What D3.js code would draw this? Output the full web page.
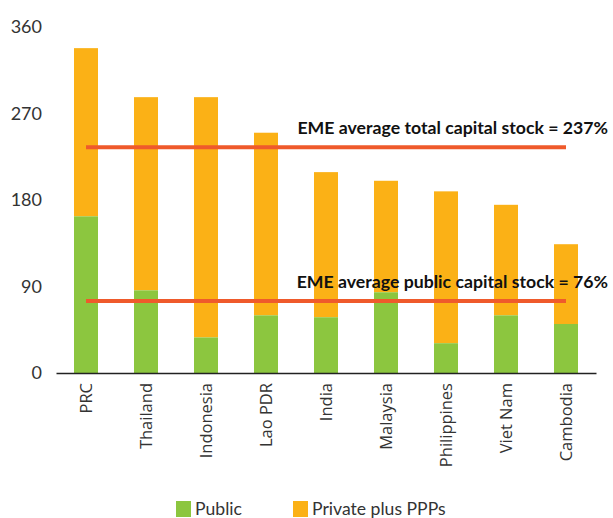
<!DOCTYPE html>
<html>
<head>
<meta charset="utf-8">
<script src="https://cdn.jsdelivr.net/npm/d3@7"></script>
<style>
  body { margin: 0; background: #fff; }
  svg { display: block; }
</style>
</head>
<body>
<script>
var countries = ["PRC", "Thailand", "Indonesia", "Lao PDR", "India", "Malaysia", "Philippines", "Viet Nam", "Cambodia"];
var totalStock = [338, 287, 287, 250, 209, 200, 189, 175, 134];
var publicStock = [163, 86, 37, 60, 58, 84, 31, 60, 51];
var yTicks = [0, 90, 180, 270, 360];
var avgLines = [
  {value: 235, label: "EME average total capital stock = 237%"},
  {value: 75, label: "EME average public capital stock = 76%"}
];
var legendNames = ["Public", "Private plus PPPs"];

var screen = {width: 613, height: 518};
var green = "#8cc63f", orange = "#fbb116", red = "#ef5a2b";

var svg = d3.select("body")
            .append("svg")
            .attr("width", screen.width)
            .attr("height", screen.height);

var x = d3.scaleBand()
          .domain(countries)
          .range([56, 596])
          .paddingInner(0.6)
          .paddingOuter(0.3);

var y = d3.scaleLinear()
          .domain([0, 360])
          .range([373, 27]);

// y tick labels only, no axis line
svg.append("g")
   .selectAll("text")
   .data(yTicks)
   .enter()
   .append("text")
   .attr("x", 42)
   .attr("y", function(d) { return y(d); })
   .attr("dy", "0.35em")
   .attr("text-anchor", "end")
   .attr("font-family", "Lato, 'Open Sans', sans-serif")
   .attr("font-size", 18)
   .attr("fill", "#333")
   .text(function(d) { return d; });

var bars = svg.append("g")
              .selectAll("g")
              .data(countries)
              .enter()
              .append("g");

// private plus PPPs sits on top of public
bars.append("rect")
    .attr("x", function(d) { return x(d); })
    .attr("width", x.bandwidth())
    .attr("y", function(d, i) { return y(totalStock[i]); })
    .attr("height", function(d, i) { return y(publicStock[i]) - y(totalStock[i]); })
    .attr("fill", orange);

bars.append("rect")
    .attr("x", function(d) { return x(d); })
    .attr("width", x.bandwidth())
    .attr("y", function(d, i) { return y(publicStock[i]); })
    .attr("height", function(d, i) { return y(0) - y(publicStock[i]); })
    .attr("fill", green);

// x axis
var xAxis = svg.append("g")
               .attr("transform", "translate(0," + y(0) + ")")
               .call(d3.axisBottom(x).tickSize(0).tickSizeOuter(0));

xAxis.select(".domain")
     .attr("stroke", "#222")
     .attr("stroke-width", 1.5);

xAxis.selectAll("text")
     .attr("transform", "rotate(-90)")
     .attr("x", -10)
     .attr("y", 0)
     .attr("dy", "0.35em")
     .attr("text-anchor", "end")
     .attr("font-family", "'Open Sans', sans-serif")
     .attr("font-size", 16.5)
     .attr("fill", "#333");

// average lines
var first = countries[0], last = countries[countries.length - 1];
var avg = svg.append("g")
             .selectAll("g")
             .data(avgLines)
             .enter()
             .append("g");

avg.append("line")
   .attr("x1", x(first) + x.bandwidth() / 2)
   .attr("x2", x(last) + x.bandwidth() / 2)
   .attr("y1", function(d) { return y(d.value); })
   .attr("y2", function(d) { return y(d.value); })
   .attr("stroke", red)
   .attr("stroke-width", 4);

avg.append("text")
   .attr("x", 608)
   .attr("y", function(d) { return y(d.value) - 13; })
   .attr("text-anchor", "end")
   .attr("font-family", "Lato, sans-serif")
   .attr("font-weight", "bold")
   .attr("font-size", 17.7)
   .attr("fill", "#111")
   .text(function(d) { return d.label; });

// legend
var legend = svg.append("g")
                .selectAll("g")
                .data(legendNames)
                .enter()
                .append("g")
                .attr("transform", function(d, i) { return "translate(" + (176 + i * 117) + ",501)"; });

legend.append("rect")
      .attr("width", 15)
      .attr("height", 16)
      .attr("fill", function(d, i) { return i == 0 ? green : orange; });

legend.append("text")
      .attr("x", 19)
      .attr("y", 14)
      .attr("font-family", "Lato, sans-serif")
      .attr("font-size", 17.6)
      .attr("fill", "#333")
      .text(function(d) { return d; });
</script>
</body>
</html>
